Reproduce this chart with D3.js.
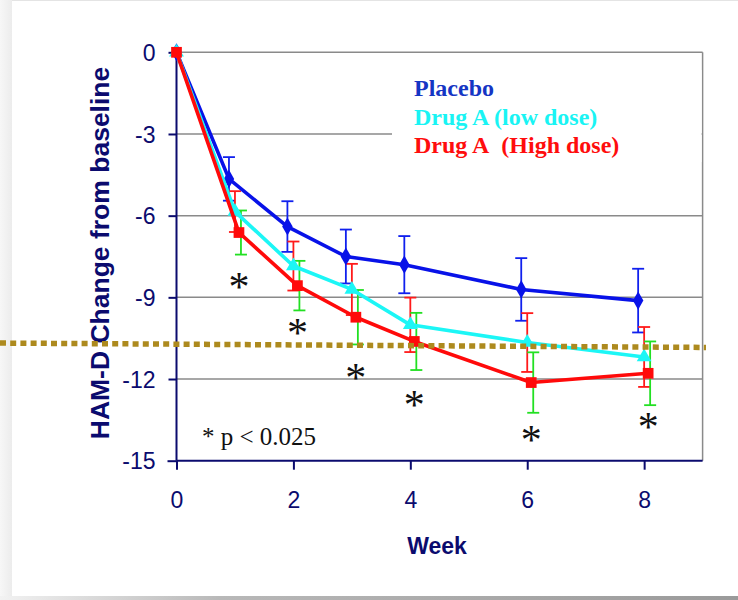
<!DOCTYPE html>
<html><head><meta charset="utf-8">
<script src="https://cdn.jsdelivr.net/npm/d3@7"></script>
<style>html,body{margin:0;padding:0;background:#fff;}svg{display:block;}</style>
</head><body>
<svg id="c" width="738" height="600"></svg>
<script>
// ---- data ----
const weeks = [0, 1, 2, 3, 4, 6, 8];
const xTicks = [0, 2, 4, 6, 8];
const yTicks = [0, -3, -6, -9, -12, -15];
const seriesNames = ["Placebo", "Drug A (low dose)", "Drug A\u00a0 (High dose)"];
const placebo = [0, -4.65, -6.40, -7.50, -7.80, -8.71, -9.12];
const placeboErr = [0, 0.80, 0.93, 0.99, 1.05, 1.15, 1.17];
const lowDose = [0, -5.85, -7.85, -8.71, -10.01, -10.66, -11.19];
const lowDoseErr = [0, 0.75, 0.90, 0.94, 1.00, 1.08, 1.10];
const highDose = [0, -6.62, -8.57, -9.73, -10.62, -12.13, -11.79];
const highDoseErr = [0, 0.81, 0.91, 1.00, 1.05, 1.11, 1.17];
const starWeeks = [1, 2, 3, 4, 6, 8];
const starValues = [-8.51, -10.2, -11.85, -12.84, -14.13, -13.65];
const refLine = [-10.68, -10.84];   // dotted reference line, left end / right end
const noteText = "* p < 0.025";
const xTitle = "Week";
const yTitle = "HAM-D Change from baseline";

// ---- layout ----
const svg = d3.select("#c");
const L = 176.5, R = 702.6, T = 52.3, B = 460.7;
const x = d3.scaleLinear().domain([0, 9]).range([L, R]);
const y = d3.scaleLinear().domain([0, -15]).range([T, B]);
const navy = "#0b0b6e";

// page background with shadow strips
const defs = svg.append("defs");
const gl = defs.append("linearGradient").attr("id","gl").attr("x1",0).attr("x2",1).attr("y1",0).attr("y2",0);
gl.append("stop").attr("offset",0).attr("stop-color","#f7f7f7");
gl.append("stop").attr("offset",1).attr("stop-color","#ececec");
const gb = defs.append("linearGradient").attr("id","gb").attr("x1",0).attr("x2",1).attr("y1",0).attr("y2",0);
gb.append("stop").attr("offset",0).attr("stop-color","#f2f2f2");
gb.append("stop").attr("offset",0.3).attr("stop-color","#b8b8b8");
gb.append("stop").attr("offset",1).attr("stop-color","#9a9a9a");
svg.append("rect").attr("x",0).attr("y",0).attr("width",738).attr("height",600).attr("fill","#fff");
svg.append("rect").attr("x",0).attr("y",0).attr("width",12).attr("height",600).attr("fill","url(#gl)");
svg.append("rect").attr("x",0).attr("y",596).attr("width",738).attr("height",4).attr("fill","url(#gb)");
svg.append("line").attr("x1",12).attr("x2",738).attr("y1",0.5).attr("y2",0.5).attr("stroke","#e4e4e4");

// gridlines
const grid = svg.append("g");
grid.selectAll("line").data(yTicks.filter(v => v !== -15)).join("line")
  .attr("x1", L).attr("x2", R).attr("y1", d => y(d)).attr("y2", d => y(d))
  .attr("stroke", "#8a8a8a").attr("stroke-width", 1.5);
// right border
svg.append("line").attr("x1", R).attr("x2", R).attr("y1", T).attr("y2", B)
  .attr("stroke", "#8a8a8a").attr("stroke-width", 1.5);

// legend (white box hides part of a gridline)
svg.append("rect").attr("x", 392).attr("y", 70).attr("width", R - 392 - 1).attr("height", 92).attr("fill", "#fff");
const legColors = ["#1535c4", "#19f4f4", "#ff0d0d"];
svg.append("g").selectAll("text").data(seriesNames).join("text")
  .attr("x", 414).attr("y", (d, i) => 96 + i * 28.5)
  .attr("font-family", "Liberation Serif, Times New Roman, serif")
  .attr("font-weight", "bold").attr("font-size", 24)
  .attr("fill", (d, i) => legColors[i])
  .text(d => d);

// axes
const yAxis = d3.axisLeft(y).tickValues(yTicks).tickSize(8).tickPadding(13).tickFormat(d => String(d));
const gy = svg.append("g").attr("transform", `translate(${L},0)`).call(yAxis);
const xAxis = d3.axisBottom(x).tickValues(xTicks).tickSize(9).tickPadding(22).tickFormat(d => String(d));
const gx = svg.append("g").attr("transform", `translate(0,${B})`).call(xAxis);
[gy, gx].forEach(g => {
  g.select(".domain").attr("stroke", navy).attr("stroke-width", 2);
  g.selectAll(".tick line").attr("stroke", navy).attr("stroke-width", 2);
  g.selectAll(".tick text").attr("fill", navy).attr("font-family", "Liberation Sans, Arial, sans-serif")
    .attr("font-size", 23);
});
gy.select(".domain").attr("d", `M0,${T}V${B}`);
gx.select(".domain").attr("d", `M${L},0H${R}`);
gy.selectAll(".tick text").attr("dy", "0.36em");
gy.selectAll(".tick").filter(d => d === -15).select("line").attr("x2", -9);

// titles
svg.append("text").attr("x", 437).attr("y", 554).attr("text-anchor", "middle")
  .attr("font-family", "Liberation Sans, Arial, sans-serif").attr("font-weight", "bold")
  .attr("font-size", 23).attr("fill", navy).text(xTitle);
svg.append("text").attr("transform", `translate(109,253) rotate(-90)`).attr("text-anchor", "middle")
  .attr("font-family", "Liberation Sans, Arial, sans-serif").attr("font-weight", "bold")
  .attr("font-size", 26.5).attr("fill", navy).text(yTitle);

// note
svg.append("text").attr("x", 202).attr("y", 445)
  .attr("font-family", "Liberation Serif, Times New Roman, serif").attr("font-size", 25)
  .attr("fill", "#111").text(noteText);

// series
const series = [
  {vals: placebo, err: placeboErr, color: "#0812e8", errColor: "#1020ee", dx: -6, edx: -6, shape: d3.symbolDiamond, size: 95},
  {vals: lowDose, err: lowDoseErr, color: "#1cf6f6", errColor: "#ff1a1a", dx: 0, edx: 0, shape: d3.symbolTriangle, size: 95},
  {vals: highDose, err: highDoseErr, color: "#ff0a0a", errColor: "#22e022", dx: 4, edx: 6, shape: d3.symbolSquare, size: 115}
];

// error bars
series.forEach(s => {
  const g = svg.append("g").attr("stroke", s.errColor).attr("stroke-width", 1.8).attr("fill", "none");
  weeks.forEach((w, i) => {
    if (!s.err[i]) return;
    const cx = x(w) + s.edx, y1 = y(s.vals[i] + s.err[i]), y2 = y(s.vals[i] - s.err[i]);
    g.append("line").attr("x1", cx).attr("x2", cx).attr("y1", y1).attr("y2", y2);
    g.append("line").attr("x1", cx - 6).attr("x2", cx + 6).attr("y1", y1).attr("y2", y1);
    g.append("line").attr("x1", cx - 6).attr("x2", cx + 6).attr("y1", y2).attr("y2", y2);
  });
});

// lines + markers
series.forEach(s => {
  const pts = weeks.map((w, i) => [x(w) + (i === 0 ? 0 : s.dx), y(s.vals[i])]);
  svg.append("path").attr("d", d3.line()(pts)).attr("fill", "none")
    .attr("stroke", s.color).attr("stroke-width", 3.6).attr("stroke-linejoin", "round");
  svg.append("g").selectAll("path").data(pts).join("path")
    .attr("transform", d => `translate(${d[0]},${d[1]})`)
    .attr("d", d3.symbol().type(s.shape).size(s.size)).attr("fill", s.color);
});

// significance stars
svg.append("g").selectAll("text").data(starWeeks).join("text")
  .attr("x", (d, i) => x(d) + 4).attr("y", (d, i) => y(starValues[i]) + 17)
  .attr("text-anchor", "middle").attr("font-family", "Liberation Serif, Times New Roman, serif")
  .attr("font-size", 42).attr("fill", "#111").text("*");

// dotted reference line
const xr = d3.scaleLinear().domain([0, 1]).range([0, 706]);
svg.append("line").attr("x1", xr(0)).attr("x2", xr(1))
  .attr("y1", y(refLine[0])).attr("y2", y(refLine[1]))
  .attr("stroke", "#ad8a1e").attr("stroke-width", 5.5).attr("stroke-dasharray", "6,4.2");
</script>
</body></html>
